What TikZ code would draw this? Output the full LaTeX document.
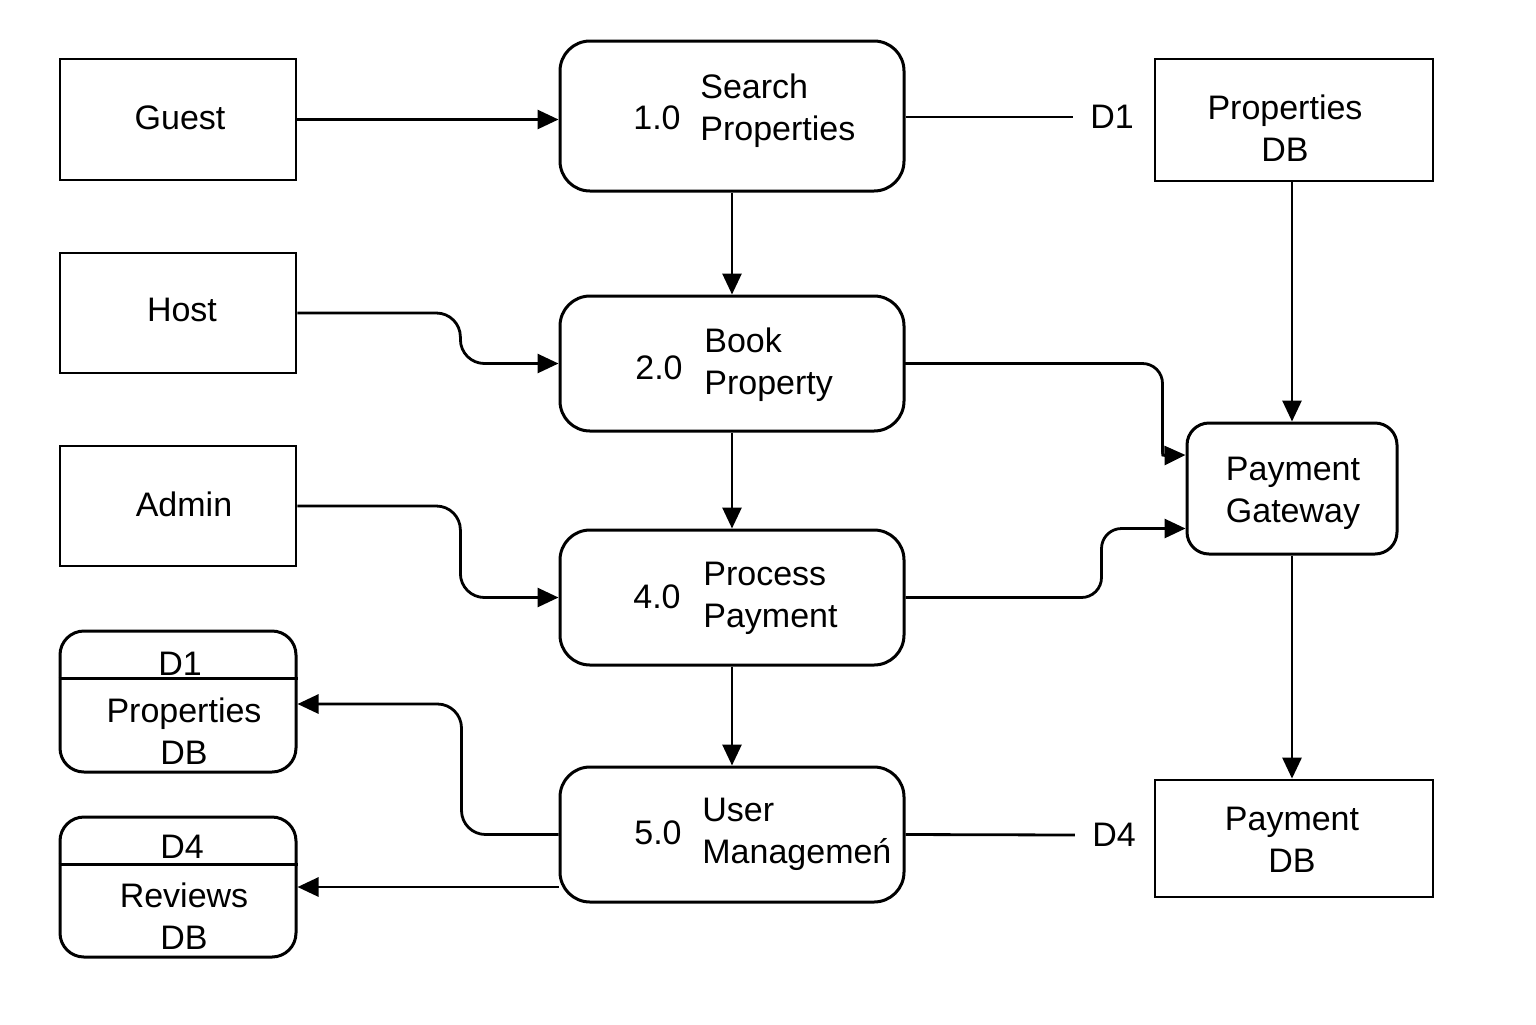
\documentclass[tikz,border=0pt]{standalone}
\usepackage{fontspec}
\setmainfont{Liberation Sans}
\usetikzlibrary{arrows.meta,calc}
\begin{document}
\begin{tikzpicture}[x=0.5pt,y=-0.5pt,
  every node/.style={font=\fontsize{17}{21}\selectfont},
  ent/.style={draw,line width=1.4pt,minimum width=118pt,inner sep=0pt},
  proc/.style={draw,line width=1.5pt,rounded corners=15pt,minimum width=172pt,minimum height=67.5pt,inner sep=0pt},
  store/.style={draw,line width=1.5pt,rounded corners=12pt,minimum width=118pt,minimum height=70.5pt,inner sep=0pt},
  txt/.style={inner sep=0pt,align=center},
  ltxt/.style={inner sep=0pt,align=left,anchor=west},
  lbl/.style={inner xsep=8.5pt,inner ysep=0pt},
  conn/.style={line width=1.4pt},
  arr/.style={conn,-{Triangle[length=10.5pt,width=9.5pt]}}]
\useasboundingbox (0,0) rectangle (1536,1024);
% external entities
\node[ent,minimum height=60.5pt] (guest) at (178,119.5) {};
\node[txt] at (180,118) {Guest};
\node[ent,minimum height=60pt] (host) at (178,313) {};
\node[txt] at (182,310) {Host};
\node[ent,minimum height=60pt] (admin) at (178,506) {};
\node[txt] at (184,504) {Admin};
% processes
\node[proc,minimum height=75pt] (p1) at (732,116) {};
\node[txt] at (657,118) {1.0};
\node[ltxt] at (700,111) {Search\\Properties};
\node[proc] (p2) at (732,363.5) {};
\node[txt] at (659,368) {2.0};
\node[ltxt] at (704,365) {Book\\Property};
\node[proc] (p4) at (732,597.5) {};
\node[txt] at (657,597) {4.0};
\node[ltxt] at (703,598) {Process\\Payment};
\node[proc] (p5) at (732,834.5) {};
\node[txt] at (658,833) {5.0};
\node[ltxt] at (702,834) {User\\Manageme\'n};
% right side
\node[ent,minimum width=139pt,minimum height=61pt] (pdb1) at (1294,120) {};
\node[txt] at (1285,128) {Properties\\DB};
\node[draw,line width=1.5pt,rounded corners=11pt,minimum width=105pt,minimum height=65.5pt,inner sep=0pt] (pg) at (1292,488.5) {};
\node[txt] at (1293,493) {Payment\\Gateway};
\node[ent,minimum width=139pt,minimum height=58.5pt] (paydb) at (1294,838.5) {};
\node[txt] at (1292,840) {Payment\\DB};
% data stores
\node[store] (ds1) at (178,701.5) {};
\draw[conn] ($(ds1.north west)+(0,49)$) -- ($(ds1.north east)+(0,49)$);
\node[txt] at (180,664) {D1};
\node[txt] at (184,731) {Properties\\DB};
\node[store,minimum height=70pt] (ds2) at (178,887) {};
\draw[conn] ($(ds2.north west)+(0,49)$) -- ($(ds2.north east)+(0,49)$);
\node[txt] at (182,847) {D4};
\node[txt] at (184,916) {Reviews\\DB};
% labels
\node[lbl] (d1l) at (1112,117) {D1};
\node[lbl] (d4l) at (1114,835) {D4};
% connectors
\draw[arr] (guest.east) -- (guest.east -| p1.west);
\draw[arr,rounded corners=12pt] (host.east) -- ++(163,0) |- (p2.west);
\draw[arr,rounded corners=12pt] (admin.east) -- ++(163,0) |- (p4.west);
\draw[arr] (p1.south) -- (p2.north);
\draw[arr] (p2.south) -- (p4.north);
\draw[arr] (p4.south) -- (p5.north);
\coordinate (k) at ($(pg.west)+(-23,-36)$);
\draw[conn,rounded corners=10pt,line cap=round] (p2.east) -| (k);
\draw[arr] (k) .. controls ($(k)+(0,3)$) .. ($(pg.west)+(0,-33.5)$);
\draw[arr,rounded corners=10pt] (p4.east) -- ++(196,0) |- ($(pg.west)+(0,40)$);
\draw[arr] (pg.north |- pdb1.south) -- (pg.north);
\draw[arr] (pg.south) -- (pg.south |- paydb.north);
\draw[arr,rounded corners=12pt] (p5.west) -- ++(-97,0) |- ($(ds1.east)+(0,2.5)$);
\draw[arr] (ds2.east -| p5.west) -- (ds2.east);
\draw[conn] (p1.east |- d1l.west) -- (d1l.west);
\draw[conn] (p5.east) -- (d4l.west);
\end{tikzpicture}
\end{document}
